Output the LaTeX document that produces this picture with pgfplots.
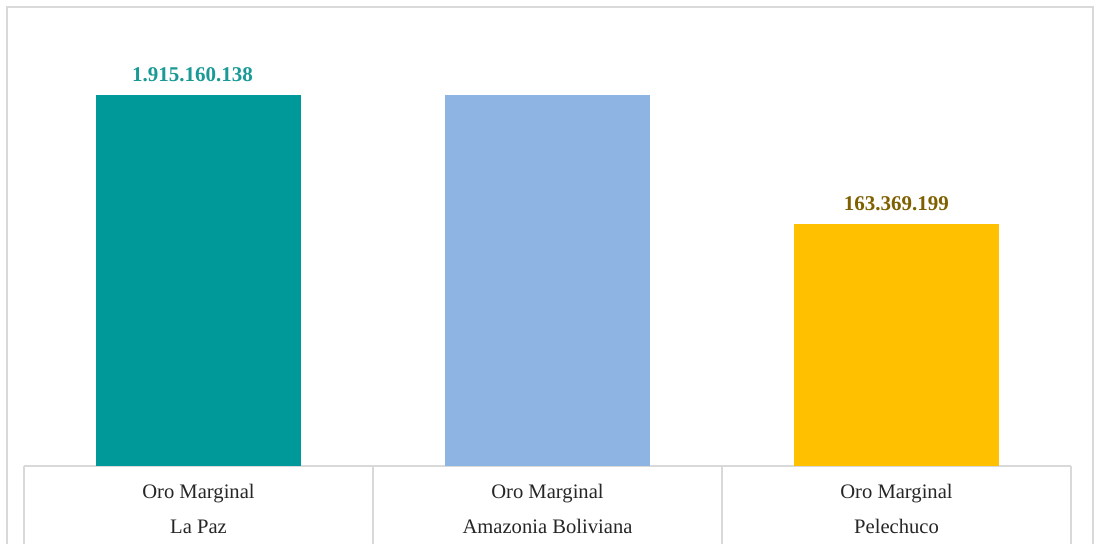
\documentclass[border=0pt]{standalone}
\usepackage{fontspec}
\setmainfont{Liberation Serif}
\usepackage{pgfplots}
\pgfplotsset{compat=1.18}

\definecolor{barteal}{HTML}{009999}
\definecolor{barblue}{HTML}{8DB4E2}
\definecolor{baryellow}{HTML}{FFC000}
\definecolor{labteal}{HTML}{1A9A96}
\definecolor{labgold}{HTML}{7F6000}
\definecolor{linegray}{HTML}{D9D9D9}

\begin{document}
\begin{tikzpicture}
% page = 1100 x 543 px at 0.5pt per px, axis corner at px (24,466)
\path[use as bounding box] (-12pt,-38.5pt) rectangle (538pt,233pt);
\draw[linegray, line width=0.8pt] (-8.5pt,-60pt) -- (-8.5pt,229.5pt) -- (534.5pt,229.5pt) -- (534.5pt,-60pt);
\begin{axis}[
	at={(0,0)}, anchor=south west,
	scale only axis,
	width=523.5pt, height=218pt,
	ymode=log, log origin=infty,
	ymin=1.607e6, ymax=6.62e9,
	xmin=-0.5, xmax=2.5,
	axis y line=none,
	axis x line*=bottom,
	x axis line style={-, draw=linegray, line width=0.8pt},
	xtick={0,1,2},
	xticklabels={{Oro Marginal\\La Paz},{Oro Marginal\\Amazonia Boliviana},{Oro Marginal\\Pelechuco}},
	major tick length=0pt,
	xticklabel style={align=center, font=\fontsize{10.3}{17.5}\selectfont, anchor=north, inner sep=0pt, yshift=-9pt, text=black!85},
	ybar, bar width=0.585,
	clip=false,
	every node near coord/.append style={font=\fontsize{10.5}{12}\selectfont\bfseries, anchor=south, inner sep=0pt, yshift=6.5pt},
]
\addplot[fill=barteal, draw=none, bar shift=0pt, nodes near coords, point meta=explicit symbolic,
	every node near coord/.append style={text=labteal, xshift=-3pt}]
	coordinates {(0,1915160138) [1.915.160.138]};
\addplot[fill=barblue, draw=none, bar shift=0pt]
	coordinates {(1,1915160138)};
\addplot[fill=baryellow, draw=none, bar shift=0pt, nodes near coords, point meta=explicit symbolic,
	every node near coord/.append style={text=labgold}]
	coordinates {(2,163369199) [163.369.199]};
\foreach \xx in {-0.5,0.5,1.5,2.5}{
	\edef\temp{\noexpand\draw[linegray, line width=0.8pt] (axis cs:\xx,1.607e6) -- ++(0pt,-60pt);}
	\temp
}
\end{axis}
\end{tikzpicture}
\end{document}
